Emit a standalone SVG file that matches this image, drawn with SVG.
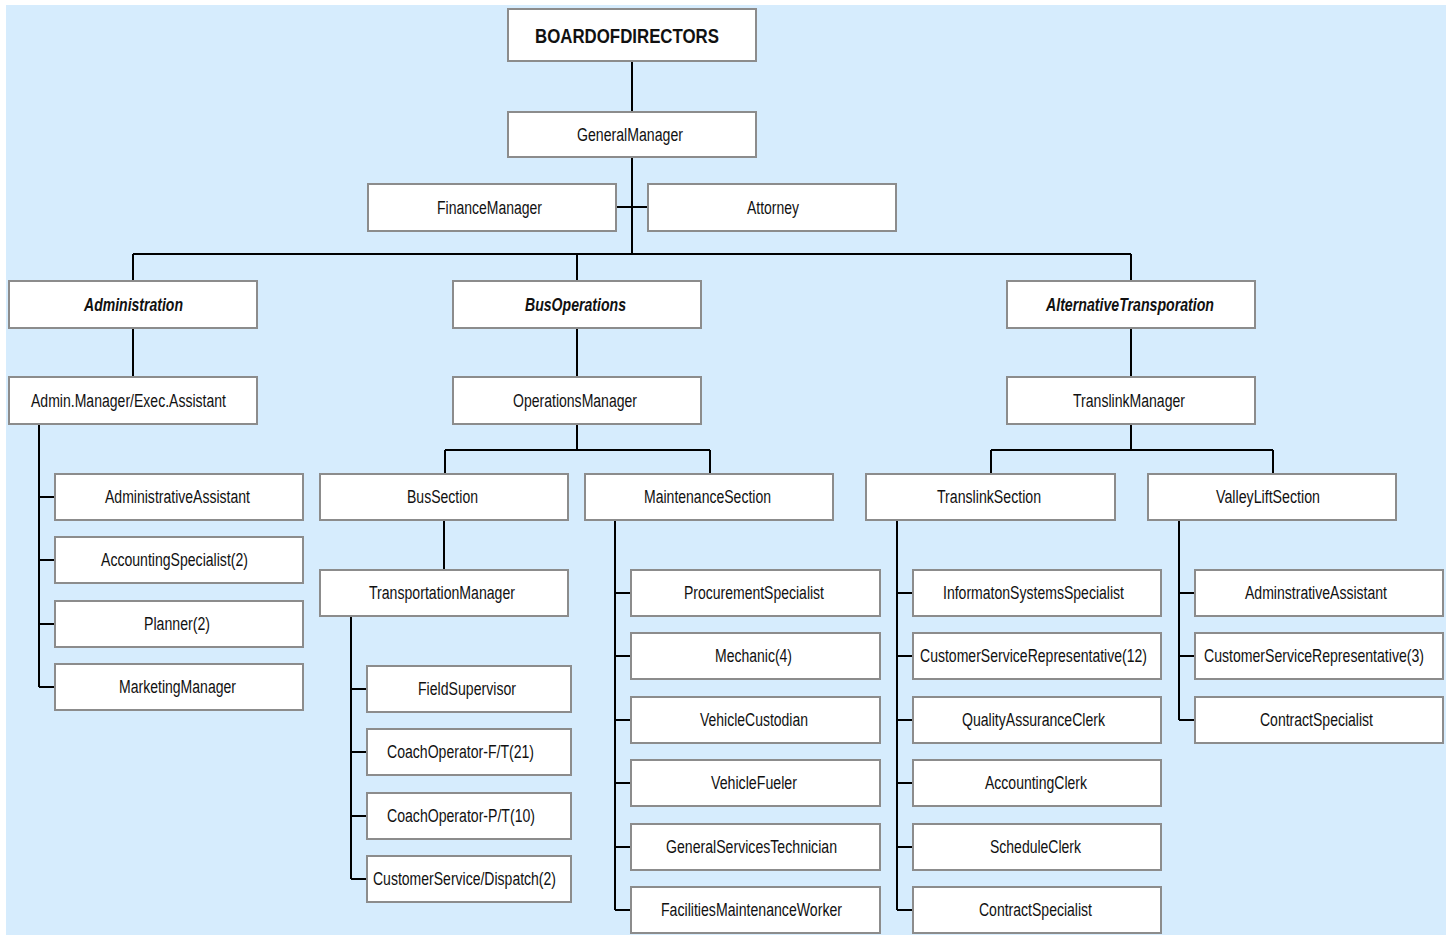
<svg xmlns="http://www.w3.org/2000/svg" width="1452" height="935" viewBox="0 0 1452 935">
<style>
.b{fill:#fff;stroke:#8c8c8c;stroke-width:2}
.t{font-family:"Liberation Sans",Arial,sans-serif;font-size:18px;fill:#111;text-anchor:middle}
.bd{font-weight:bold;font-size:21px}
.bi{font-weight:bold;font-style:italic}
.c{fill:none;stroke:#000;stroke-width:2}
</style>
<rect x="6" y="5" width="1440" height="930" fill="#d6ecfd"/>
<g id="connectors" class="c">
<path d="M632 61V254M616 207H648M133 254H1131M133 254V281M577 254V281M1131 254V281"/>
<path d="M133 328V377M577 328V377M1131 328V377"/>
<path d="M39 424V687M39 497H55M39 560H55M39 624H55M39 687H55"/>
<path d="M577 424V450M445 450H710M445 450V474M710 450V474"/>
<path d="M444 520V570M351 616V879M351 689H367M351 752H367M351 816H367M351 879H367"/>
<path d="M615 520V910M615 593H631M615 656H631M615 720H631M615 783H631M615 847H631M615 910H631"/>
<path d="M1131 424V450M991 450H1273M991 450V474M1273 450V474"/>
<path d="M897 520V910M897 593H913M897 656H913M897 720H913M897 783H913M897 847H913M897 910H913"/>
<path d="M1179 520V720M1179 593H1195M1179 656H1195M1179 720H1195"/>
</g>
<g id="bod"><rect class="b" x="508" y="9" width="248" height="52"/><text class="t bd" x="627" y="42.5" textLength="184" lengthAdjust="spacingAndGlyphs">BOARDOFDIRECTORS</text></g>
<g id="gm"><rect class="b" x="508" y="112" width="248" height="45"/><text class="t" x="630" y="141" textLength="106" lengthAdjust="spacingAndGlyphs">GeneralManager</text></g>
<g id="fm"><rect class="b" x="368" y="184" width="248" height="47"/><text class="t" x="489.5" y="213.5" textLength="105" lengthAdjust="spacingAndGlyphs">FinanceManager</text></g>
<g id="att"><rect class="b" x="648" y="184" width="248" height="47"/><text class="t" x="773" y="213.5" textLength="52" lengthAdjust="spacingAndGlyphs">Attorney</text></g>
<g id="adm"><rect class="b" x="9" y="281" width="248" height="47"/><text class="t bi" x="133.5" y="310.5" textLength="99" lengthAdjust="spacingAndGlyphs">Administration</text></g>
<g id="busops"><rect class="b" x="453" y="281" width="248" height="47"/><text class="t bi" x="575.5" y="310.5" textLength="101" lengthAdjust="spacingAndGlyphs">BusOperations</text></g>
<g id="alt"><rect class="b" x="1007" y="281" width="248" height="47"/><text class="t bi" x="1130" y="310.5" textLength="168" lengthAdjust="spacingAndGlyphs">AlternativeTransporation</text></g>
<g id="amgr"><rect class="b" x="9" y="377" width="248" height="47"/><text class="t" x="128.5" y="406.5" textLength="195" lengthAdjust="spacingAndGlyphs">Admin.Manager/Exec.Assistant</text></g>
<g id="opsm"><rect class="b" x="453" y="377" width="248" height="47"/><text class="t" x="575" y="406.5" textLength="124" lengthAdjust="spacingAndGlyphs">OperationsManager</text></g>
<g id="tlm"><rect class="b" x="1007" y="377" width="248" height="47"/><text class="t" x="1129" y="406.5" textLength="112" lengthAdjust="spacingAndGlyphs">TranslinkManager</text></g>
<g id="aa"><rect class="b" x="55" y="474" width="248" height="46"/><text class="t" x="177.5" y="503" textLength="145" lengthAdjust="spacingAndGlyphs">AdministrativeAssistant</text></g>
<g id="as2"><rect class="b" x="55" y="537" width="248" height="46"/><text class="t" x="174.5" y="566" textLength="147" lengthAdjust="spacingAndGlyphs">AccountingSpecialist(2)</text></g>
<g id="pl"><rect class="b" x="55" y="601" width="248" height="46"/><text class="t" x="177" y="630" textLength="66" lengthAdjust="spacingAndGlyphs">Planner(2)</text></g>
<g id="mm"><rect class="b" x="55" y="664" width="248" height="46"/><text class="t" x="177.5" y="693" textLength="117" lengthAdjust="spacingAndGlyphs">MarketingManager</text></g>
<g id="bus"><rect class="b" x="320" y="474" width="248" height="46"/><text class="t" x="442.5" y="503" textLength="71" lengthAdjust="spacingAndGlyphs">BusSection</text></g>
<g id="mnt"><rect class="b" x="585" y="474" width="248" height="46"/><text class="t" x="707.5" y="503" textLength="127" lengthAdjust="spacingAndGlyphs">MaintenanceSection</text></g>
<g id="tls"><rect class="b" x="866" y="474" width="249" height="46"/><text class="t" x="989" y="503" textLength="104" lengthAdjust="spacingAndGlyphs">TranslinkSection</text></g>
<g id="vls"><rect class="b" x="1148" y="474" width="248" height="46"/><text class="t" x="1268" y="503" textLength="104" lengthAdjust="spacingAndGlyphs">ValleyLiftSection</text></g>
<g id="tm"><rect class="b" x="320" y="570" width="248" height="46"/><text class="t" x="442" y="599" textLength="146" lengthAdjust="spacingAndGlyphs">TransportationManager</text></g>
<g id="fs"><rect class="b" x="367" y="666" width="204" height="46"/><text class="t" x="467" y="695" textLength="98" lengthAdjust="spacingAndGlyphs">FieldSupervisor</text></g>
<g id="coft"><rect class="b" x="367" y="729" width="204" height="46"/><text class="t" x="460.5" y="758" textLength="147" lengthAdjust="spacingAndGlyphs">CoachOperator-F/T(21)</text></g>
<g id="copt"><rect class="b" x="367" y="793" width="204" height="46"/><text class="t" x="461" y="822" textLength="148" lengthAdjust="spacingAndGlyphs">CoachOperator-P/T(10)</text></g>
<g id="csd"><rect class="b" x="367" y="856" width="204" height="46"/><text class="t" x="464.5" y="885" textLength="183" lengthAdjust="spacingAndGlyphs">CustomerService/Dispatch(2)</text></g>
<g id="ps"><rect class="b" x="631" y="570" width="249" height="46"/><text class="t" x="754" y="599" textLength="140" lengthAdjust="spacingAndGlyphs">ProcurementSpecialist</text></g>
<g id="mech"><rect class="b" x="631" y="633" width="249" height="46"/><text class="t" x="753.5" y="662" textLength="77" lengthAdjust="spacingAndGlyphs">Mechanic(4)</text></g>
<g id="vc"><rect class="b" x="631" y="697" width="249" height="46"/><text class="t" x="754" y="726" textLength="108" lengthAdjust="spacingAndGlyphs">VehicleCustodian</text></g>
<g id="vf"><rect class="b" x="631" y="760" width="249" height="46"/><text class="t" x="754" y="789" textLength="86" lengthAdjust="spacingAndGlyphs">VehicleFueler</text></g>
<g id="gst"><rect class="b" x="631" y="824" width="249" height="46"/><text class="t" x="751.5" y="853" textLength="171" lengthAdjust="spacingAndGlyphs">GeneralServicesTechnician</text></g>
<g id="fmw"><rect class="b" x="631" y="887" width="249" height="46"/><text class="t" x="751.5" y="916" textLength="181" lengthAdjust="spacingAndGlyphs">FacilitiesMaintenanceWorker</text></g>
<g id="iss"><rect class="b" x="913" y="570" width="248" height="46"/><text class="t" x="1033.5" y="599" textLength="181" lengthAdjust="spacingAndGlyphs">InformatonSystemsSpecialist</text></g>
<g id="csr12"><rect class="b" x="913" y="633" width="248" height="46"/><text class="t" x="1033.5" y="662" textLength="227" lengthAdjust="spacingAndGlyphs">CustomerServiceRepresentative(12)</text></g>
<g id="qac"><rect class="b" x="913" y="697" width="248" height="46"/><text class="t" x="1033.5" y="726" textLength="143" lengthAdjust="spacingAndGlyphs">QualityAssuranceClerk</text></g>
<g id="ac"><rect class="b" x="913" y="760" width="248" height="46"/><text class="t" x="1036" y="789" textLength="102" lengthAdjust="spacingAndGlyphs">AccountingClerk</text></g>
<g id="sc"><rect class="b" x="913" y="824" width="248" height="46"/><text class="t" x="1035.5" y="853" textLength="91" lengthAdjust="spacingAndGlyphs">ScheduleClerk</text></g>
<g id="cs"><rect class="b" x="913" y="887" width="248" height="46"/><text class="t" x="1035.5" y="916" textLength="113" lengthAdjust="spacingAndGlyphs">ContractSpecialist</text></g>
<g id="vaa"><rect class="b" x="1195" y="570" width="248" height="46"/><text class="t" x="1316" y="599" textLength="142" lengthAdjust="spacingAndGlyphs">AdminstrativeAssistant</text></g>
<g id="csr3"><rect class="b" x="1195" y="633" width="248" height="46"/><text class="t" transform="translate(1314 662) scale(0.783 1)" x="0" y="0">CustomerServiceRepresentative(3)</text></g>
<g id="vcs"><rect class="b" x="1195" y="697" width="248" height="46"/><text class="t" x="1316.5" y="726" textLength="113" lengthAdjust="spacingAndGlyphs">ContractSpecialist</text></g>
</svg>
